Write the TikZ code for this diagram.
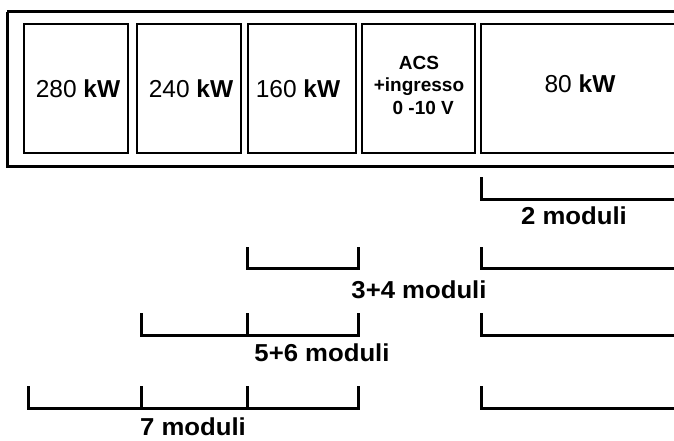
\documentclass[tikz,border=0pt]{standalone}
\usepackage{fontspec}
\setmainfont{Liberation Sans}
\newfontfamily\widesans[FakeStretch=1.05]{Liberation Sans}
\begin{document}
\begin{tikzpicture}[x=1pt,y=-1pt,
  frame/.style={draw=black,line width=3pt},
  modbox/.style={draw=black,line width=1.8pt},
  brk/.style={draw=black,line width=3pt},
  kwlab/.style={font=\fontsize{24.5}{28}\selectfont,inner sep=0pt,anchor=base},
  modlab/.style={font=\widesans\fontsize{24.5}{27}\selectfont\bfseries,inner sep=0pt,anchor=base},
  acslab/.style={font=\fontsize{19}{22.5}\selectfont\bfseries,align=center,inner sep=0pt}]
\useasboundingbox (0,0) rectangle (674,440);
\clip (0,0) rectangle (674,440);
% outer frame
\path[frame] (7,11.5) -- (690,11.5) (7,11.5) -- (7,166) -- (690,166);
% modules
\path[modbox] (24,24) rectangle (128,153);
\path[modbox] (137,24) rectangle (241,153);
\path[modbox] (248,24) rectangle (356,153);
\path[modbox] (362,24) rectangle (475,153);
\path[modbox] (690,24) -- (481,24) -- (481,153) -- (690,153);
\node[kwlab] (k280) at (78,97) {280 \textbf{kW}};
\node[kwlab] (k240) at (191,97) {240 \textbf{kW}};
\node[kwlab] (k160) at (298,97) {160 \textbf{kW}};
\node[acslab] (acs) at (419,85) {ACS\\+ingresso\\\ \,0 -10 V};
\node[kwlab] (k80) at (580,92) {80 \textbf{kW}};
% brackets
\path[brk] (481,177) -- (481,199) -- (690,199);
\node[modlab] (m2) at (574,224) {2 moduli};
\path[brk] (247,247) -- (247,268) -- (358,268) -- (358,247);
\path[brk] (481,247) -- (481,268) -- (690,268);
\node[modlab] (m34) at (419,298) {3+4 moduli};
\path[brk] (141,313) -- (141,335) -- (358,335) -- (358,313);
\path[brk] (247,313) -- (247,335);
\path[brk] (481,313) -- (481,335) -- (690,335);
\node[modlab] (m56) at (322,361) {5+6 moduli};
\path[brk] (28,386) -- (28,408) -- (358,408) -- (358,386);
\path[brk] (141,386) -- (141,408);
\path[brk] (247,386) -- (247,408);
\path[brk] (481,386) -- (481,408) -- (690,408);
\node[modlab] (m7) at (193,435) {7 moduli};
\end{tikzpicture}
\end{document}
